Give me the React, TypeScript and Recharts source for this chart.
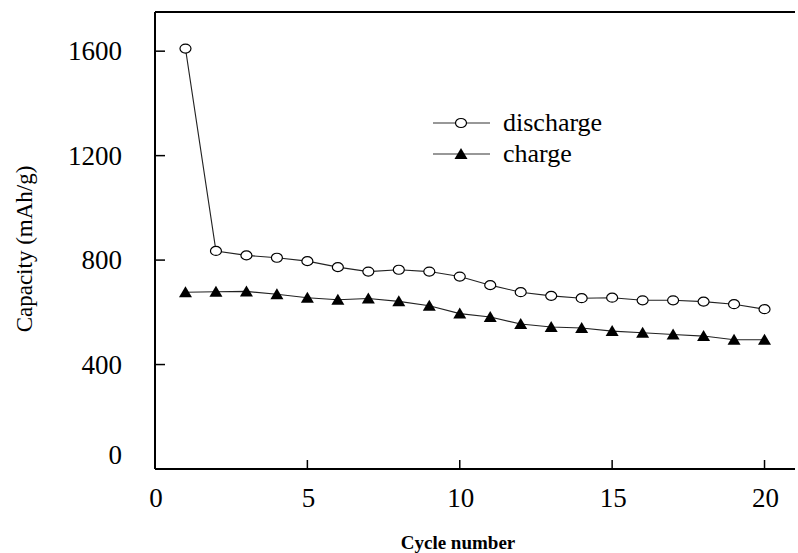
import { Line, LineChart, ReferenceLine, XAxis, YAxis } from "recharts";

const cycles = [1, 2, 3, 4, 5, 6, 7, 8, 9, 10, 11, 12, 13, 14, 15, 16, 17, 18, 19, 20];
const discharge = [1610, 835, 818, 809, 796, 773, 756, 763, 756, 737, 704, 677, 663, 654, 656, 646, 646, 641, 631, 612];
const charge = [677, 679, 680, 669, 656, 648, 653, 642, 625, 595, 582, 555, 544, 540, 528, 522, 515, 509, 495, 495];
const xTicks = [0, 5, 10, 15, 20];
const yTicks = [0, 400, 800, 1200, 1600];
const seriesNames = ["discharge", "charge"];

const data = cycles.map((c, i) => ({ cycle: c, discharge: discharge[i], charge: charge[i] }));

const FONT = "'Liberation Serif', 'Times New Roman', serif";

function XTick({ x, y, payload }: any) {
  return (
    <g>
      <line x1={x} y1={y} x2={x} y2={y - 9} stroke="#000" strokeWidth={1.5} />
      <text x={x + 1} y={y + 38} textAnchor="middle" fontFamily={FONT} fontSize={27} fill="#000">
        {payload.value}
      </text>
    </g>
  );
}

function YTick({ x, y, payload }: any) {
  const dy = payload.value === 0 ? -14 : 0;
  return (
    <g>
      <line x1={x} y1={y} x2={x + 10} y2={y} stroke="#000" strokeWidth={1.5} />
      <text x={x - 33} y={y + dy + 9} textAnchor="end" fontFamily={FONT} fontSize={27} fill="#000">
        {payload.value}
      </text>
    </g>
  );
}

function CircleDot({ cx, cy }: any) {
  if (cx == null || cy == null) return null;
  return <ellipse cx={cx} cy={cy} rx={5.5} ry={4.5} fill="#fff" stroke="#000" strokeWidth={1.2} />;
}

function TriDot({ cx, cy }: any) {
  if (cx == null || cy == null) return null;
  return <path d={`M${cx},${cy - 6} L${cx + 6.5},${cy + 5} L${cx - 6.5},${cy + 5} Z`} fill="#000" />;
}

function LegendBox() {
  return (
    <div style={{ position: "absolute", left: 433, top: 107, fontFamily: FONT, fontSize: 26, color: "#000" }}>
      {seriesNames.map((name, i) => (
        <div key={name} style={{ display: "flex", alignItems: "center", height: 31 }}>
          <svg width={70} height={20}>
            <line x1={0} y1={10} x2={57} y2={10} stroke="#333" strokeWidth={1.2} />
            {i === 0 ? (
              <ellipse cx={28} cy={10} rx={5.5} ry={4.5} fill="#fff" stroke="#000" strokeWidth={1.2} />
            ) : (
              <path d="M28,4 L34.5,15 L21.5,15 Z" fill="#000" />
            )}
          </svg>
          <span style={{ lineHeight: "31px" }}>{name}</span>
        </div>
      ))}
    </div>
  );
}

export default function App() {
  return (
    <div style={{ position: "absolute", left: 0, top: 0, width: 798, height: 553, background: "#fff" }}>
      <LineChart width={798} height={553} data={data} margin={{ top: 12, right: 3, left: 0, bottom: 0 }}>
        <XAxis
          dataKey="cycle"
          type="number"
          domain={[0, 21]}
          ticks={xTicks}
          height={84}
          tickSize={0}
          tickMargin={0}
          tickLine={false}
          axisLine={{ stroke: "#000", strokeWidth: 2 }}
          tick={<XTick />}
          interval={0}
        />
        <YAxis
          type="number"
          domain={[0, 1750]}
          ticks={yTicks}
          width={155}
          tickSize={0}
          tickMargin={0}
          tickLine={false}
          axisLine={{ stroke: "#000", strokeWidth: 2 }}
          tick={<YTick />}
          interval={0}
        />
        <ReferenceLine y={1750} stroke="#000" strokeWidth={2} />
        <Line
          type="linear"
          dataKey="discharge"
          stroke="#222"
          strokeWidth={1.1}
          dot={<CircleDot />}
          activeDot={false}
          isAnimationActive={false}
        />
        <Line
          type="linear"
          dataKey="charge"
          stroke="#222"
          strokeWidth={1.1}
          dot={<TriDot />}
          activeDot={false}
          isAnimationActive={false}
        />
      </LineChart>
      <LegendBox />
      <div
        style={{
          position: "absolute",
          left: 25,
          top: 249,
          transform: "translate(-50%, -50%) rotate(-90deg)",
          fontFamily: FONT,
          fontSize: 23,
          whiteSpace: "nowrap",
        }}
      >
        Capacity (mAh/g)
      </div>
      <div
        style={{
          position: "absolute",
          left: 458,
          top: 543,
          transform: "translate(-50%, -50%)",
          fontFamily: FONT,
          fontSize: 19,
          fontWeight: "bold",
          whiteSpace: "nowrap",
        }}
      >
        Cycle number
      </div>
    </div>
  );
}
